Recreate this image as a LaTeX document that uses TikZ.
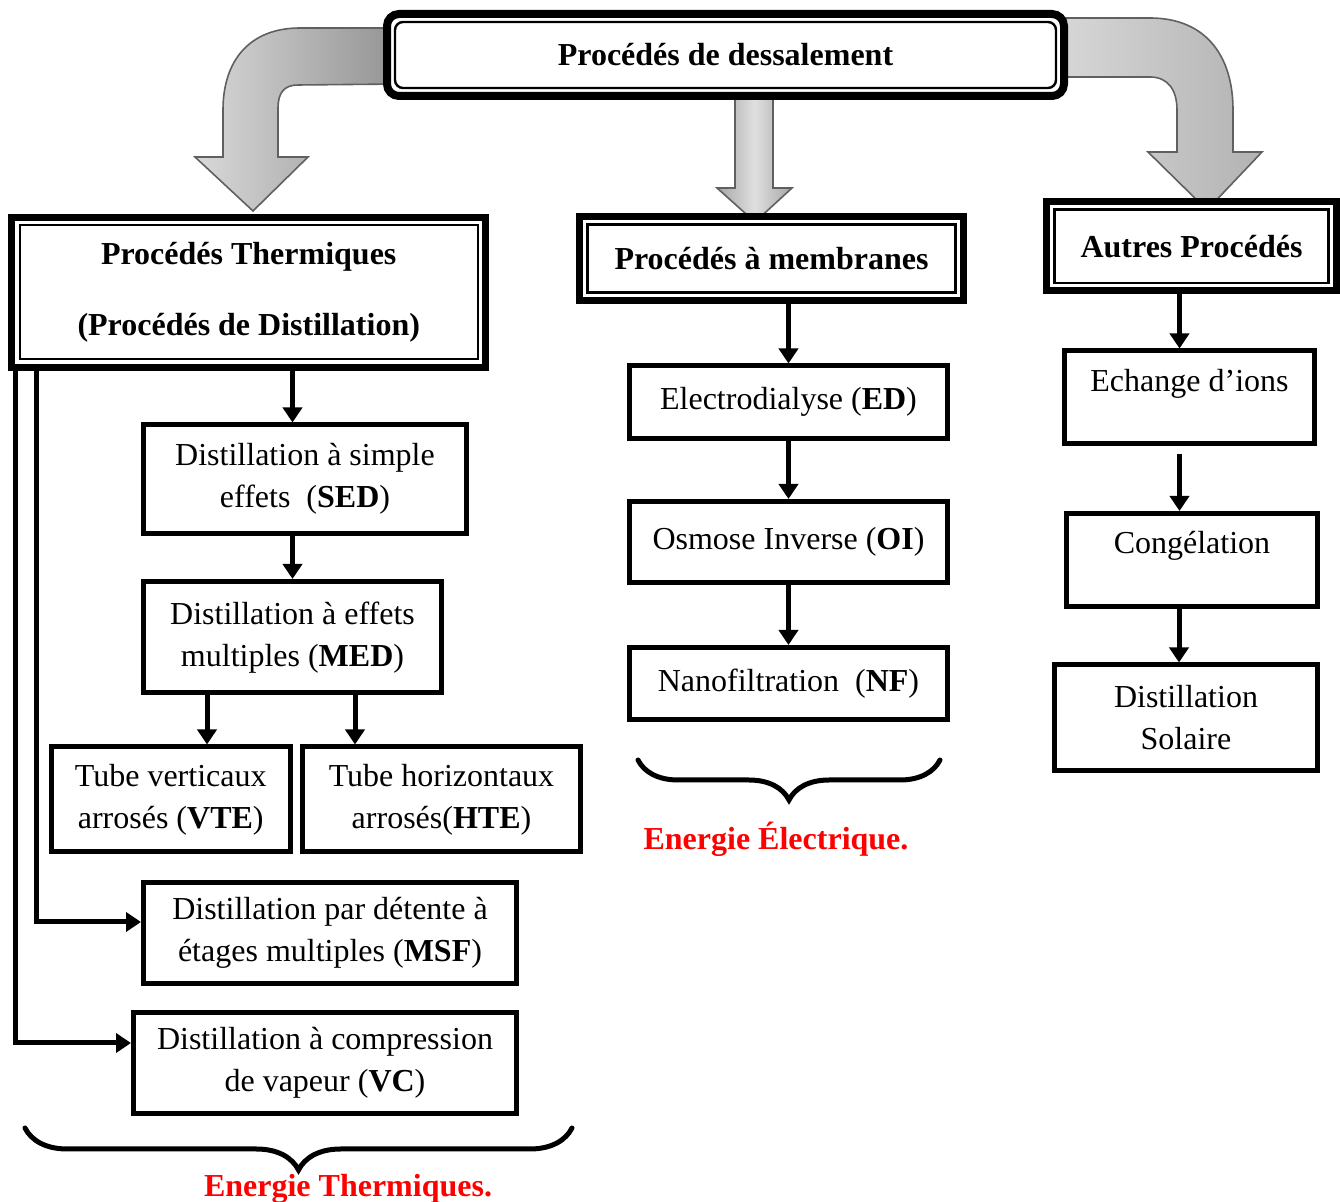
\documentclass[tikz,border=0pt]{standalone}
\usepackage{fontspec}
\setmainfont{Liberation Serif}
\usepackage{tikz}
\usetikzlibrary{arrows.meta,decorations.pathreplacing}
\definecolor{energyred}{RGB}{255,0,0}

\begin{document}
\begin{tikzpicture}[x=0.5pt, y=-0.5pt,
    every node/.style={font=\fontsize{16}{21}\selectfont},
    box/.style={draw, line width=2.5pt, align=center, inner sep=0pt},
    headbox/.style={draw, line width=3.5pt, fill=white, align=center, inner sep=0pt, font=\fontsize{16}{21}\selectfont\bfseries},
    arr/.style={-{Triangle[length=7.5pt,width=9.5pt]}, line width=2.5pt},
    bigarrow/.style={draw=gray!75!black, line width=0.8pt},
    accolade/.style={decorate, decoration={brace, mirror, amplitude=#1}, line width=2.5pt, line cap=round},
    energy/.style={text=energyred, font=\fontsize{16}{21}\selectfont\bfseries, anchor=base}]
    \useasboundingbox (0,0) rectangle (1340,1202);

    % gray arrows from the main box
    \draw[bigarrow, left color=gray!30, right color=gray!85]
      (400,28) -- (300,28) .. controls (250,28) and (223,60) .. (223,110) -- (223,157) -- (195,157)
      -- (253,211) -- (308,157) -- (278,157) -- (278,108) .. controls (278,93) and (284,85) .. (298,85)
      -- (400,84) -- cycle;
    \draw[bigarrow, left color=gray!30, right color=gray!60]
      (1050,18) -- (1150,18) .. controls (1205,18) and (1233,55) .. (1233,110) -- (1233,152) -- (1262,152)
      -- (1207,210) -- (1148,152) -- (1177,152) -- (1177,110) .. controls (1177,90) and (1168,77) .. (1150,77)
      -- (1050,77) -- cycle;
    \draw[bigarrow, left color=gray!70, right color=gray!70, middle color=gray!25]
      (735,90) -- (773,90) -- (773,188) -- (792,188) -- (755,222) -- (717,188) -- (735,188) -- cycle;

    \node[headbox, line width=4pt, rounded corners=6pt, minimum width=338.5pt, minimum height=41pt] (proc) at (725.5,55) {Procédés de dessalement};
    \node[headbox, minimum width=237pt, minimum height=75pt] (therm) at (248.75,292.25) {Procédés Thermiques\\[14.5pt](Procédés de Distillation)};
    \node[headbox, minimum width=192pt, minimum height=42pt] (memb) at (771.5,258.5) {Procédés à membranes};
    \node[headbox, minimum width=145pt, minimum height=44.75pt] (autres) at (1191.5,246.25) {Autres Procédés};

    % inner frames
    \draw[line width=1.2pt, rounded corners=4pt] ([shift={(6pt,-6pt)}]proc.north west) rectangle ([shift={(-6pt,6pt)}]proc.south east);
    \foreach \n in {therm,memb,autres}
      \draw[line width=1.1pt] ([shift={(5.75pt,-5.75pt)}]\n.north west) rectangle ([shift={(-5.75pt,5.75pt)}]\n.south east);

    % thermal processes
    \node[box, minimum width=161.5pt, minimum height=54.25pt] (sed) at (305,479.25) {Distillation à simple\\effets\ \ (\textbf{SED})};
    \node[box, minimum width=149pt, minimum height=55.75pt] (med) at (292.5,637.25) {Distillation à effets\\multiples (\textbf{MED})};
    \node[box, minimum width=119.25pt, minimum height=52.5pt] (vte) at (170.75,799.5) {Tube verticaux\\arrosés (\textbf{VTE})};
    \node[box, minimum width=139pt, minimum height=52.5pt] (hte) at (441.5,799.5) {Tube horizontaux\\arrosés(\textbf{HTE})};
    \node[box, minimum width=186.5pt, minimum height=50.5pt] (msf) at (330,933) {Distillation par détente à\\étages multiples (\textbf{MSF})};
    \node[box, minimum width=191.5pt, minimum height=50.5pt] (vc) at (325,1063) {Distillation à compression\\de vapeur (\textbf{VC})};

    % membrane processes
    \node[box, minimum width=159pt, minimum height=36.25pt] (ed) at (788.5,402.25) {Electrodialyse (\textbf{ED})};
    \node[box, minimum width=159pt, minimum height=40.5pt] (oi) at (788.5,542) {Osmose Inverse (\textbf{OI})};
    \node[box, minimum width=159pt, minimum height=36pt] (nf) at (788.5,683.5) {Nanofiltration\ \ (\textbf{NF})};

    % other processes
    \node[box, minimum width=125pt, minimum height=46.25pt, text depth=16.5pt] (ech) at (1189.5,397.25) {Echange d’ions};
    \node[box, minimum width=125.5pt, minimum height=46.5pt, text depth=17.5pt] (cong) at (1192,560) {Congélation};
    \node[box, minimum width=131.5pt, minimum height=52.75pt] (sol) at (1186,717.75) {Distillation\\Solaire};

    \draw[arr] (therm.south -| med.north) -- (sed.north -| med.north);
    \draw[arr] (sed.south -| med.north) -- (med.north);
    \draw[arr] ([xshift=-42.75pt]med.south) -- ([xshift=-42.75pt]med.south |- vte.north);
    \draw[arr] ([xshift=31.25pt]med.south) -- ([xshift=31.25pt]med.south |- hte.north);
    \draw[arr] ([xshift=14pt]therm.south west) |- ([yshift=5.5pt]msf.west);
    \draw[arr] ([xshift=3.5pt]therm.south west) |- ([yshift=10pt]vc.west);

    \draw[arr] (memb.south -| ed.north) -- (ed.north);
    \draw[arr] (ed) -- (oi);
    \draw[arr] (oi) -- (nf);

    \draw[arr] ([xshift=-6pt]autres.south) -- ([xshift=-6pt]autres.south |- ech.north);
    \draw[arr, shorten <=4pt] ([xshift=-5pt]ech.south) -- ([xshift=-5pt]ech.south |- cong.north);
    \draw[arr] ([xshift=-6.5pt]cong.south) -- ([xshift=-6.5pt]cong.south |- sol.north);

    % braces and energy labels
    \coordinate (mb1) at (638,760);
    \coordinate (mb2) at (940,760);
    \coordinate (tb1) at (25,1128);
    \coordinate (tb2) at (572,1128);
    \draw[accolade=20pt] (mb1) -- (mb2);
    \draw[accolade=21pt] (tb1) -- (tb2);
    \node[energy] (elec) at (776,850) {Energie Électrique.};
    \node[energy] (therml) at (348,1196) {Energie Thermiques.};
  \end{tikzpicture}
\end{document}
